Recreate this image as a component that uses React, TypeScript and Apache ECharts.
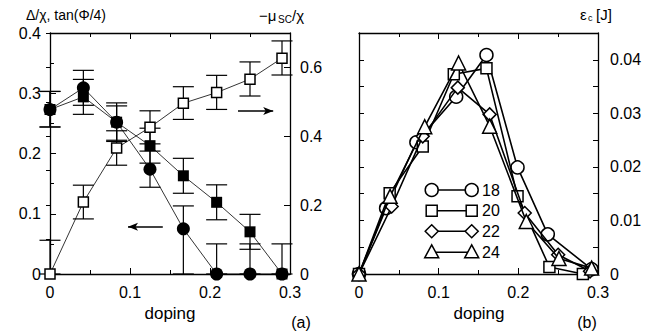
import React, { useEffect, useRef } from "react";
import * as echarts from "echarts";

// ---------- panel (a) data ----------
const dopingA = [0, 0.0417, 0.0833, 0.125, 0.1667, 0.2083, 0.25, 0.29];
const gapCircle = [0.273, 0.309, 0.252, 0.174, 0.075, 0, 0, 0];
const gapCircleLow = [0.244, 0.28, 0.222, 0.144, 0, 0, 0, 0];
const gapCircleHigh = [0.303, 0.338, 0.279, 0.204, 0.113, 0.05, 0.05, 0.05];
const tanSquare = [0.273, 0.294, 0.252, 0.213, 0.163, 0.119, 0.07, 0];
const tanSquareLow = [0.244, 0.265, 0.22, 0.184, 0.134, 0.09, 0.041, null];
const tanSquareHigh = [0.303, 0.323, 0.284, 0.242, 0.192, 0.148, 0.099, null];
const muOpen = [0, 0.209, 0.366, 0.426, 0.496, 0.527, 0.566, 0.627];
const muOpenLow = [0, 0.16, 0.316, 0.378, 0.449, 0.478, 0.517, 0.578];
const muOpenHigh = [0.098, 0.258, 0.416, 0.474, 0.544, 0.577, 0.616, 0.677];
const arrowLeft = [[0.141, 0.0785], [0.0975, 0.0785]];
const arrowRight = [[0.235, 0.2705], [0.279, 0.2705]];

// ---------- panel (b) data ----------
const sizes = ["18", "20", "22", "24"];
const symbolsB = ["circle", "rect", "diamond", "triangle"];
const symbolSizesB = [13, 11, 13, 14];
const dopN18 = [0, 0.034, 0.072, 0.122, 0.16, 0.199, 0.237, 0.292];
const ecN18 = [0, 0.0123, 0.0246, 0.0331, 0.0409, 0.0199, 0.0074, 0.0009];
const dopN20 = [0, 0.0385, 0.08, 0.119, 0.16, 0.199, 0.239, 0.281];
const ecN20 = [0, 0.0151, 0.0238, 0.0373, 0.0384, 0.0145, 0.0013, 0];
const dopN22 = [0, 0.041, 0.08, 0.124, 0.164, 0.208, 0.25, 0.29];
const ecN22 = [0, 0.0126, 0.0257, 0.0348, 0.0298, 0.0114, 0.0036, 0.0005];
const dopN24 = [0, 0.039, 0.0825, 0.125, 0.164, 0.21, 0.251, 0.292];
const ecN24 = [0, 0.0145, 0.0275, 0.0394, 0.0276, 0.0098, 0.0029, 0.0011];
const dopB = [dopN18, dopN20, dopN22, dopN24];
const ecB = [ecN18, ecN20, ecN22, ecN24];

const FONT = "Liberation Sans, Arial, sans-serif";
const BLACK = "#000";
const TICK_FS = 16;

const fmt1 = (v: number) => (Math.abs(v) < 1e-9 ? "0" : v.toFixed(1));

function errData(xs: number[], lo: (number | null)[], hi: (number | null)[]) {
  const out: number[][] = [];
  xs.forEach((x, i) => {
    if (lo[i] != null && hi[i] != null) out.push([x, lo[i] as number, hi[i] as number]);
  });
  return out;
}

function errSeries(data: number[][], xi: number, yi: number) {
  return {
    type: "custom",
    xAxisIndex: xi,
    yAxisIndex: yi,
    silent: true,
    z: 1,
    encode: { x: 0, y: [1, 2] },
    data,
    renderItem: (params: any, api: any) => {
      const x = api.value(0);
      const lo = api.coord([x, api.value(1)]);
      const hi = api.coord([x, api.value(2)]);
      const hw = 10.5;
      const st = { stroke: BLACK, lineWidth: 1.2 };
      return {
        type: "group",
        children: [
          { type: "line", shape: { x1: lo[0], y1: lo[1], x2: hi[0], y2: hi[1] }, style: st },
          { type: "line", shape: { x1: lo[0] - hw, y1: lo[1], x2: lo[0] + hw, y2: lo[1] }, style: st },
          { type: "line", shape: { x1: hi[0] - hw, y1: hi[1], x2: hi[0] + hw, y2: hi[1] }, style: st },
        ],
      };
    },
  };
}

function xAx(grid: number, pos: "bottom" | "top") {
  return {
    type: "value",
    gridIndex: grid,
    position: pos,
    min: 0,
    max: 0.3,
    interval: 0.1,
    axisLine: { show: true, onZero: false, lineStyle: { color: BLACK, width: 1.3 } },
    axisTick: { show: true, inside: true, length: 6, lineStyle: { color: BLACK, width: 1 } },
    minorTick: { show: true, splitNumber: 2, length: 4, lineStyle: { color: BLACK, width: 1 } },
    splitLine: { show: false },
    minorSplitLine: { show: false },
    axisLabel: {
      show: pos === "bottom",
      margin: 10,
      color: BLACK,
      fontSize: TICK_FS,
      fontFamily: FONT,
      formatter: fmt1,
    },
  };
}

function legendGraphics() {
  const out: any[] = [];
  const rowsY = [190, 210.7, 231.3, 252.3];
  const x1 = 431.7;
  const x2 = 471.7;
  const st = { fill: "#fff", stroke: BLACK, lineWidth: 1.5 };
  const mk = (kind: string, cx: number, cy: number) => {
    if (kind === "circle") return { type: "circle", shape: { cx, cy, r: 6.5 }, style: st, z: 100 };
    if (kind === "rect") return { type: "rect", shape: { x: cx - 5.5, y: cy - 5.5, width: 11, height: 11 }, style: st, z: 100 };
    if (kind === "diamond")
      return { type: "polygon", shape: { points: [[cx, cy - 6.5], [cx + 6.5, cy], [cx, cy + 6.5], [cx - 6.5, cy]] }, style: st, z: 100 };
    return { type: "polygon", shape: { points: [[cx, cy - 7.5], [cx + 7, cy + 5.5], [cx - 7, cy + 5.5]] }, style: st, z: 100 };
  };
  sizes.forEach((name, i) => {
    const y = rowsY[i];
    out.push({ type: "line", shape: { x1, y1: y, x2, y2: y }, style: { stroke: BLACK, lineWidth: 1.5 }, z: 99 });
    out.push(mk(symbolsB[i], x1, y));
    out.push(mk(symbolsB[i], x2, y));
    out.push({
      type: "text",
      x: 482,
      y,
      style: { text: name, fontSize: 16, fontFamily: FONT, fill: BLACK, verticalAlign: "middle", align: "left" },
      z: 100,
    });
  });
  return out;
}

function txt(text: string, x: number, y: number, size = 15, align = "left") {
  return {
    type: "text",
    x,
    y,
    style: { text, fontSize: size, fontFamily: FONT, fill: BLACK, verticalAlign: "middle", align },
  };
}

export default function App() {
  const ref = useRef<HTMLDivElement>(null);
  useEffect(() => {
    if (!ref.current) return;
    const chart = echarts.init(ref.current, undefined, { renderer: "svg" });
    const arrowLine = (pts: number[][]) => [
      { coord: pts[0], symbol: "none" },
      { coord: pts[1], symbol: "arrow", symbolSize: [6, 10] },
    ];
    const seriesB = sizes.map((name, i) => ({
      type: "line",
      name,
      xAxisIndex: 2,
      yAxisIndex: 3,
      data: dopB[i].map((x, j) => [x, ecB[i][j]]),
      symbol: symbolsB[i],
      symbolSize: symbolSizesB[i],
      showSymbol: true,
      silent: true,
      z: 3 + i,
      itemStyle: { color: "#fff", borderColor: BLACK, borderWidth: 1.5 },
      lineStyle: { color: BLACK, width: 1.6 },
    }));
    const option: any = {
      animation: false,
      backgroundColor: "#fff",
      grid: [
        { left: 50, top: 33, width: 240, height: 241 },
        { left: 359, top: 33, width: 239, height: 241 },
      ],
      xAxis: [xAx(0, "bottom"), xAx(0, "top"), xAx(1, "bottom"), xAx(1, "top")],
      yAxis: [
        {
          type: "value",
          gridIndex: 0,
          position: "left",
          min: 0,
          max: 0.4,
          interval: 0.1,
          axisLine: { show: true, onZero: false, lineStyle: { color: BLACK, width: 1.3 } },
          axisTick: { show: true, inside: true, length: 6, lineStyle: { color: BLACK } },
          minorTick: { show: true, splitNumber: 2, length: 4, lineStyle: { color: BLACK } },
          splitLine: { show: false },
          axisLabel: { margin: 9, color: BLACK, fontSize: TICK_FS, fontFamily: FONT, formatter: fmt1 },
        },
        {
          type: "value",
          gridIndex: 0,
          position: "right",
          min: 0,
          max: 0.7,
          interval: 0.2,
          axisLine: { show: true, onZero: false, lineStyle: { color: BLACK, width: 1.3 } },
          axisTick: { show: true, inside: true, length: 6, lineStyle: { color: BLACK } },
          splitLine: { show: false },
          axisLabel: {
            margin: 10,
            color: BLACK,
            fontSize: TICK_FS,
            fontFamily: FONT,
            formatter: (v: number) => (v > 0.65 ? "" : fmt1(v)),
          },
        },
        {
          type: "value",
          gridIndex: 0,
          position: "right",
          min: 0,
          max: 0.7,
          interval: 0.1,
          axisLine: { show: false },
          axisTick: { show: true, inside: true, length: 4, lineStyle: { color: BLACK } },
          splitLine: { show: false },
          axisLabel: { show: false },
        },
        {
          type: "value",
          gridIndex: 1,
          position: "right",
          min: 0,
          max: 0.045,
          interval: 0.005,
          axisLine: { show: true, onZero: false, lineStyle: { color: BLACK, width: 1.3 } },
          axisTick: { show: true, inside: true, length: 5, lineStyle: { color: BLACK } },
          splitLine: { show: false },
          axisLabel: {
            margin: 12,
            color: BLACK,
            fontSize: TICK_FS,
            fontFamily: FONT,
            formatter: (v: number) => {
              const k = Math.round(v * 1000);
              if (k % 10 !== 0 || k > 40) return "";
              return k === 0 ? "0" : v.toFixed(2);
            },
          },
        },
        {
          type: "value",
          gridIndex: 1,
          position: "left",
          min: 0,
          max: 0.045,
          interval: 0.005,
          axisLine: { show: true, onZero: false, lineStyle: { color: BLACK, width: 1.3 } },
          axisTick: { show: true, inside: true, length: 5, lineStyle: { color: BLACK } },
          splitLine: { show: false },
          axisLabel: { show: false },
        },
      ],
      series: [
        errSeries(errData(dopingA, tanSquareLow, tanSquareHigh), 0, 0),
        errSeries(errData(dopingA, gapCircleLow, gapCircleHigh), 0, 0),
        errSeries(errData(dopingA, muOpenLow, muOpenHigh), 0, 1),
        {
          type: "line",
          name: "tan",
          xAxisIndex: 0,
          yAxisIndex: 0,
          data: dopingA.map((x, i) => [x, tanSquare[i]]),
          symbol: "rect",
          symbolSize: 11,
          silent: true,
          z: 3,
          itemStyle: { color: BLACK },
          lineStyle: { color: BLACK, width: 0.8 },
        },
        {
          type: "line",
          name: "gap",
          xAxisIndex: 0,
          yAxisIndex: 0,
          data: dopingA.map((x, i) => [x, gapCircle[i]]),
          symbol: "circle",
          symbolSize: 13,
          silent: true,
          z: 4,
          itemStyle: { color: BLACK },
          lineStyle: { color: BLACK, width: 0.8 },
          markLine: {
            silent: true,
            label: { show: false },
            lineStyle: { color: BLACK, width: 1.5, type: "solid" },
            data: [arrowLine(arrowLeft), arrowLine(arrowRight)],
          },
        },
        {
          type: "line",
          name: "mu",
          xAxisIndex: 0,
          yAxisIndex: 1,
          data: dopingA.map((x, i) => [x, muOpen[i]]),
          symbol: "rect",
          symbolSize: 10,
          silent: true,
          z: 5,
          itemStyle: { color: "#fff", borderColor: BLACK, borderWidth: 1.5 },
          lineStyle: { color: BLACK, width: 0.8 },
        },
        ...seriesB,
      ],
      graphic: [
        txt("Δ/χ, tan(Φ/4)", 26, 15, 14),
        txt("−μ", 259, 15, 15),
        txt("SC", 278, 19, 10),
        txt("/χ", 292, 15, 15),
        txt("doping", 170, 313, 17, "center"),
        txt("(a)", 301, 322, 16, "center"),
        txt("ε", 580, 14, 15),
        txt("c", 588, 18, 9),
        txt("[J]", 596, 14, 15),
        txt("doping", 479, 313, 17, "center"),
        txt("(b)", 587, 322, 16, "center"),
        ...legendGraphics(),
      ],
    };
    chart.setOption(option);
    return () => chart.dispose();
  }, []);
  return (
    <div
      ref={ref}
      style={{ position: "absolute", left: 0, top: 0, width: 667, height: 333, background: "#fff" }}
    />
  );
}
